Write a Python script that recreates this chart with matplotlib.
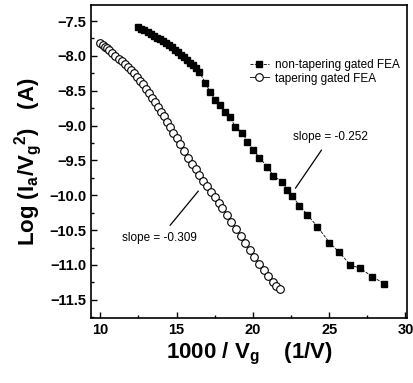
import matplotlib
matplotlib.use("Agg")
import matplotlib.pyplot as plt
from matplotlib.ticker import MultipleLocator

plt.rcParams['font.family'] = ['Liberation Sans', 'DejaVu Sans']
plt.rcParams['mathtext.fontset'] = 'custom'
plt.rcParams['mathtext.rm'] = 'Liberation Sans:bold'
plt.rcParams['mathtext.it'] = 'Liberation Sans:bold'
plt.rcParams['mathtext.bf'] = 'Liberation Sans:bold'

# non-tapering gated FEA (filled squares)
x_non = [12.5, 12.7, 12.9, 13.1, 13.3, 13.5, 13.7, 13.9, 14.1, 14.3, 14.5,
         14.7, 14.9, 15.1, 15.3, 15.5, 15.7, 15.9, 16.1, 16.3, 16.5,
         16.89, 17.21, 17.54, 17.87, 18.20, 18.52, 18.85, 19.31, 19.64,
         20.03, 20.43, 20.95, 21.34, 21.93, 22.26, 22.59, 23.05, 23.57,
         24.23, 25.02, 25.67, 26.39, 27.05, 27.84, 28.62]
y_non = [-7.59, -7.61, -7.635, -7.66, -7.69, -7.71, -7.74, -7.765, -7.79,
         -7.815, -7.845, -7.875, -7.91, -7.95, -7.985, -8.02, -8.06, -8.10,
         -8.135, -8.18, -8.23,
         -8.39, -8.52, -8.63, -8.70, -8.80, -8.88, -9.02, -9.10, -9.23,
         -9.35, -9.46, -9.59, -9.72, -9.81, -9.92, -10.01, -10.15, -10.28,
         -10.45, -10.68, -10.82, -11.00, -11.05, -11.17, -11.27]

# tapering gated FEA (open circles)
x_tap = [10.0, 10.15, 10.3, 10.45, 10.6, 10.8, 11.0, 11.2, 11.4, 11.6, 11.8,
         12.0, 12.2, 12.4, 12.6, 12.8, 13.0, 13.2, 13.4, 13.6, 13.8, 14.0,
         14.2, 14.4, 14.6, 14.8, 15.0, 15.25, 15.5, 15.75, 16.0, 16.25, 16.5,
         16.75, 17.0, 17.25, 17.5, 17.75, 18.0, 18.3, 18.6, 18.9, 19.2, 19.5,
         19.8, 20.1, 20.4, 20.7, 21.0, 21.3, 21.55, 21.8]
y_tap = [-7.81, -7.84, -7.87, -7.89, -7.92, -7.96, -8.00, -8.04, -8.08,
         -8.12, -8.16, -8.20, -8.25, -8.30, -8.36, -8.41, -8.47, -8.53,
         -8.60, -8.66, -8.73, -8.80, -8.87, -8.95, -9.02, -9.10, -9.18,
         -9.27, -9.36, -9.46, -9.55, -9.63, -9.71, -9.79, -9.87, -9.95,
         -10.03, -10.11, -10.18, -10.28, -10.38, -10.48, -10.58, -10.69,
         -10.79, -10.89, -10.98, -11.07, -11.16, -11.24, -11.30, -11.35]

fig = plt.figure(figsize=(4.14, 3.83), dpi=100)
ax = fig.add_axes([0.22, 0.170, 0.763, 0.817])

ax.plot(x_non, y_non, ls='--', lw=0.6, color='black', marker='s', ms=4.5,
        mfc='black', mec='black', label='non-tapering gated FEA')
ax.plot(x_tap, y_tap, ls='-', lw=0.6, color='black', marker='o', ms=5.5,
        mfc='white', mec='black', mew=0.8, label='tapering gated FEA')

ax.set_xlim(9.4, 30.1)
ax.set_ylim(-11.76, -7.27)
ax.xaxis.set_major_locator(MultipleLocator(5))
ax.xaxis.set_minor_locator(MultipleLocator(2.5))
ax.yaxis.set_major_locator(MultipleLocator(0.5))
ax.yaxis.set_minor_locator(MultipleLocator(0.25))
ax.tick_params(which='both', direction='in', width=1.0)
ax.tick_params(which='major', length=4, labelsize=10.5)
ax.tick_params(which='minor', length=2)
for lab in ax.get_xticklabels() + ax.get_yticklabels():
    lab.set_fontweight('bold')
for s in ax.spines.values():
    s.set_linewidth(1.2)

ax.set_xlabel(r'1000 / V$_\mathregular{g}$    (1/V)', fontsize=16, fontweight='bold',
              labelpad=3)
ax.set_ylabel(r'Log (I$_\mathregular{a}$/V$_\mathregular{g}$$^\mathregular{2}$)   (A)',
              fontsize=16, fontweight='bold', labelpad=4)

ax.legend(loc='upper right', bbox_to_anchor=(1.01, 0.86), frameon=False,
          fontsize=8.5, handlelength=1.6, handletextpad=0.5, labelspacing=0.1)

ax.annotate('slope = -0.252', xy=(22.79, -9.90), xytext=(25.1, -9.16),
            fontsize=8.5, ha='center', va='center',
            arrowprops=dict(arrowstyle='-', lw=0.9, color='black',
                            shrinkA=4, shrinkB=0))
ax.annotate('slope = -0.309', xy=(16.43, -9.94), xytext=(13.87, -10.62),
            fontsize=8.5, ha='center', va='center',
            arrowprops=dict(arrowstyle='-', lw=0.9, color='black',
                            shrinkA=4, shrinkB=0))

fig.savefig('out.png', dpi=100)
